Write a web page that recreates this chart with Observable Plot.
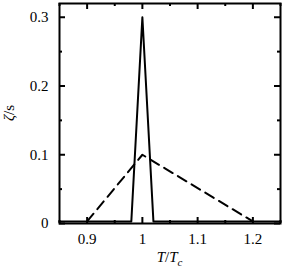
<!DOCTYPE html>
<html>
<head>
<meta charset="utf-8">
<script src="https://cdn.jsdelivr.net/npm/d3@7"></script>
<script src="https://cdn.jsdelivr.net/npm/@observablehq/plot@0.6"></script>
<style>
  html, body { margin: 0; padding: 0; background: #fff; }
</style>
</head>
<body>
<div id="chart"></div>
<script>
// Data
const solidX = [0.85, 0.98, 1.0, 1.02, 1.25];
const solidY = [0.003, 0.003, 0.3, 0.003, 0.003];
const dashX = [0.9, 1.0, 1.2];
const dashY = [0.003, 0.1, 0.003];

const xMajor = [0.9, 1, 1.1, 1.2];
const xMajorLabels = ["0.9", "1", "1.1", "1.2"];
const xMinor = [0.85, 0.95, 1.05, 1.15, 1.25];
const yMajor = [0, 0.1, 0.2, 0.3];
const yMajorLabels = ["0", "0.1", "0.2", "0.3"];
const yMinor = [0.05, 0.15, 0.25];

const W = 283, H = 275;
const mL = 59, mR = 3, mT = 3, mB = 52;
const plotH = H - mT - mB;
const plotW = W - mL - mR;
const FONT = "'Liberation Serif', 'Times New Roman', serif";

const solid = solidX.map((x, i) => ({x, y: solidY[i]}));
const dash = dashX.map((x, i) => ({x, y: dashY[i]}));

const chart = Plot.plot({
  width: W, height: H,
  marginLeft: mL, marginRight: mR, marginTop: mT, marginBottom: mB,
  style: {fontSize: "15px", background: "white", color: "black"},
  x: {domain: [0.85, 1.25]},
  y: {domain: [0, 0.32]},
  marks: [
    Plot.line(solid, {x: "x", y: "y", stroke: "black", strokeWidth: 2}),
    Plot.line(dash, {x: "x", y: "y", stroke: "black", strokeWidth: 2, strokeDasharray: "10,6"}),
    // inward ticks: bottom & top
    Plot.ruleX(xMajor, {x: d => d, insetTop: plotH - 6, stroke: "black", strokeWidth: 2}),
    Plot.ruleX(xMajor, {x: d => d, insetBottom: plotH - 6, stroke: "black", strokeWidth: 2}),
    Plot.ruleX(xMinor, {x: d => d, insetTop: plotH - 3, stroke: "black", strokeWidth: 2}),
    Plot.ruleX(xMinor, {x: d => d, insetBottom: plotH - 3, stroke: "black", strokeWidth: 2}),
    // inward ticks: left & right
    Plot.ruleY(yMajor, {y: d => d, insetRight: plotW - 6, stroke: "black", strokeWidth: 2}),
    Plot.ruleY(yMajor, {y: d => d, insetLeft: plotW - 6, stroke: "black", strokeWidth: 2}),
    Plot.ruleY(yMinor, {y: d => d, insetRight: plotW - 3, stroke: "black", strokeWidth: 2}),
    Plot.ruleY(yMinor, {y: d => d, insetLeft: plotW - 3, stroke: "black", strokeWidth: 2}),
    Plot.axisX(xMajor, {tickSize: 0, tickPadding: 10, tickFormat: (d, i) => xMajorLabels[i], label: null, fontSize: 15}),
    Plot.axisY(yMajor, {tickSize: 0, tickPadding: 11, tickFormat: (d, i) => yMajorLabels[i], label: null, fontSize: 15}),
    Plot.frame({stroke: "black", strokeWidth: 2})
  ]
});

// Axis titles with italic parts
const svg = d3.select(chart);
const yt = svg.append("text")
  .attr("transform", `translate(11,${mT + plotH / 2}) rotate(-90)`)
  .attr("text-anchor", "middle")
  .attr("dominant-baseline", "middle")
  .attr("font-size", 15)
  .attr("fill", "black");
yt.append("tspan").attr("font-style", "italic").text("ζ");
yt.append("tspan").text("/s");

const xt = svg.append("text")
  .attr("x", mL + plotW / 2)
  .attr("y", 262)
  .attr("text-anchor", "middle")
  .attr("font-size", 15)
  .attr("fill", "black");
xt.append("tspan").attr("font-style", "italic").text("T");
xt.append("tspan").text("/");
xt.append("tspan").attr("font-style", "italic").text("T");
xt.append("tspan").attr("font-style", "italic").attr("font-size", 11).attr("dy", 4).text("c");

svg.style("font-family", FONT);
svg.selectAll("text").style("font-family", FONT);

document.getElementById("chart").appendChild(chart);
</script>
</body>
</html>
